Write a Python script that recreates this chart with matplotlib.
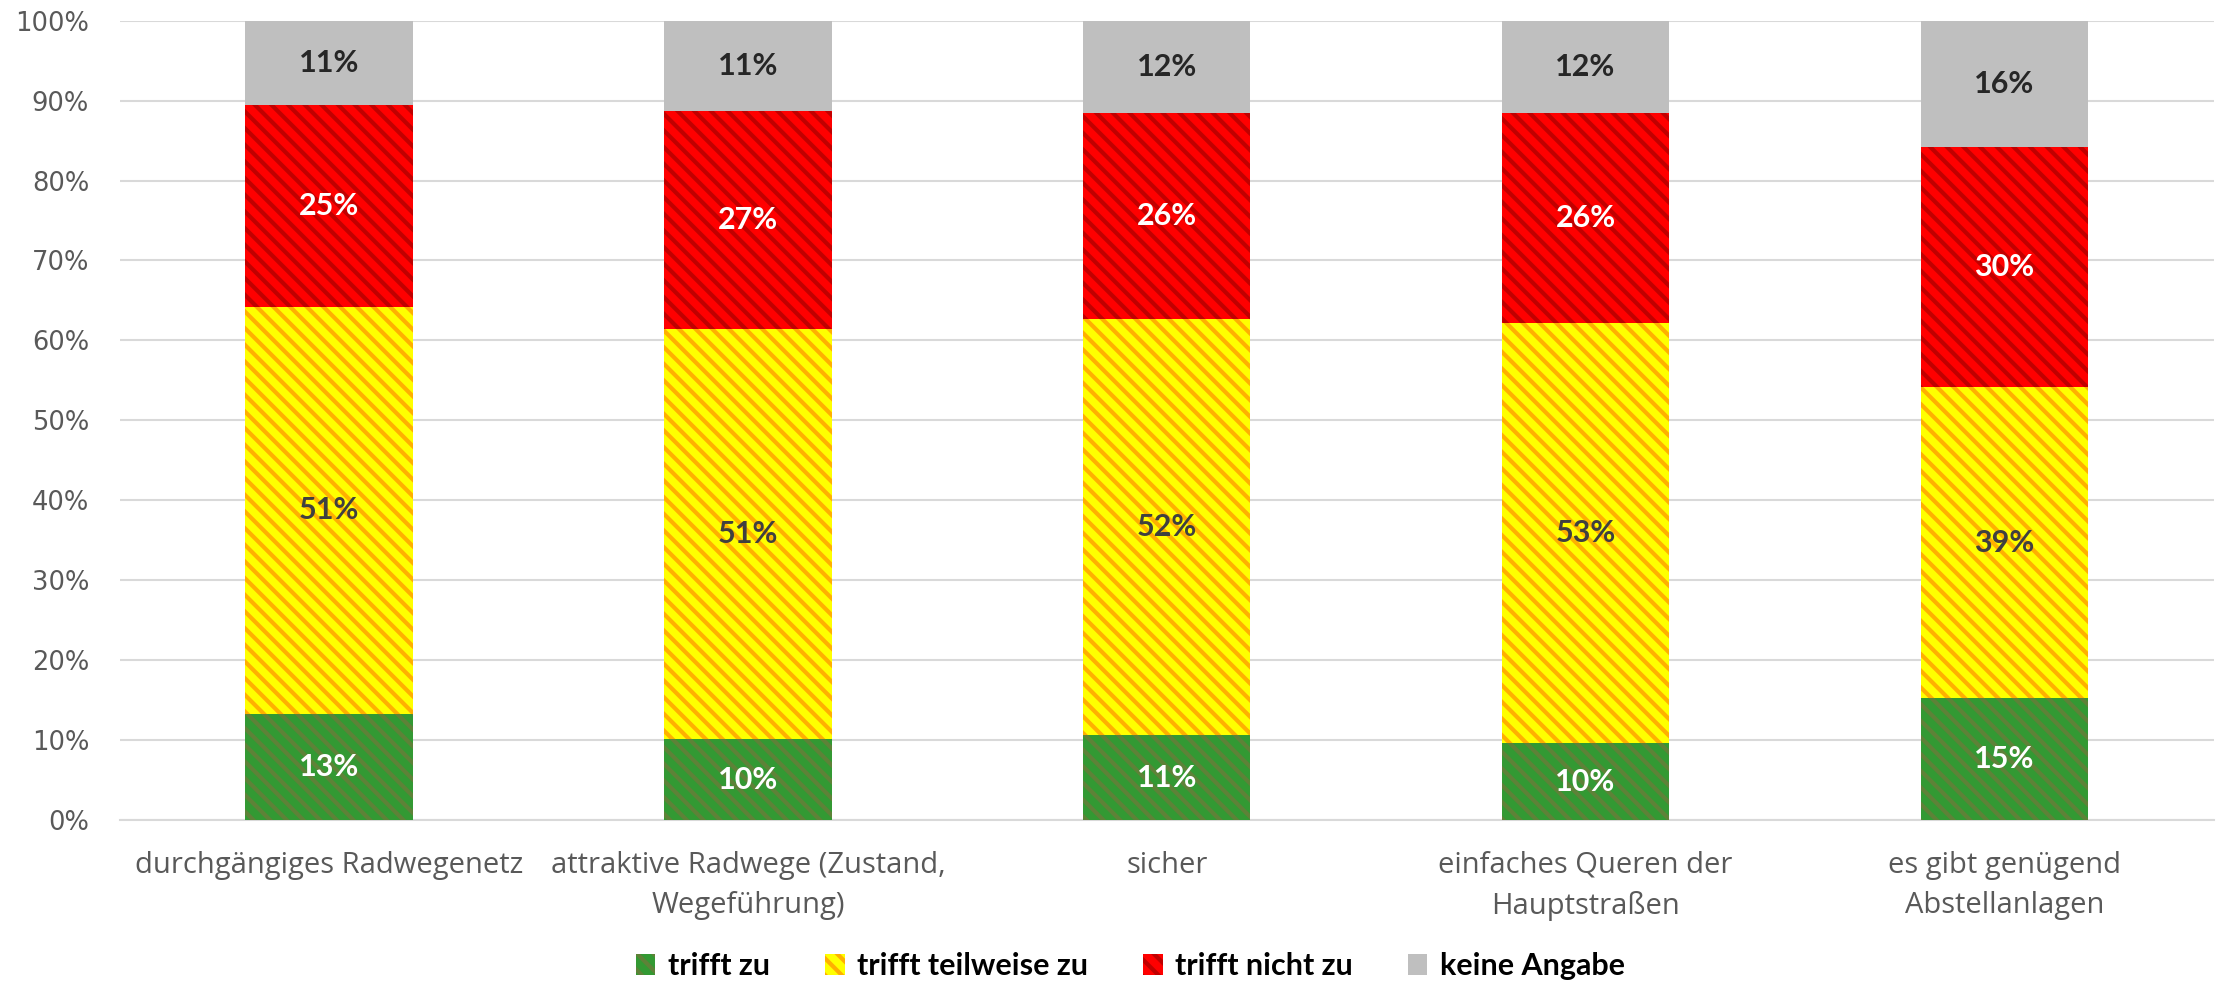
import numpy as np
import matplotlib
matplotlib.use("Agg")
import matplotlib.pyplot as plt
from matplotlib.patches import Patch

plt.rcParams['hatch.linewidth'] = 3.0

categories = ["durchgängiges Radwegenetz", "attraktive Radwege (Zustand,\nWegeführung)",
              "sicher", "einfaches Queren der\nHauptstraßen", "es gibt genügend\nAbstellanlagen"]
trifft_zu = [13.3, 10.1, 10.6, 9.6, 15.2]
teilweise = [50.9, 51.3, 52.1, 52.6, 39.0]
nicht_zu = [25.2, 27.3, 25.8, 26.2, 30.0]
keine_angabe = [10.6, 11.3, 11.5, 11.6, 15.8]

series = [
    ("trifft zu", trifft_zu, "#339933", "#5e8238", "white", "\\\\"),
    ("trifft teilweise zu", teilweise, "#ffff00", "#ffb000", "#404040", "\\\\"),
    ("trifft nicht zu", nicht_zu, "#ff0000", "#c00000", "white", "\\\\"),
    ("keine Angabe", keine_angabe, "#bfbfbf", "#bfbfbf", "#262626", None),
]

fig = plt.figure(figsize=(22.16, 9.84), dpi=100)
ax = fig.add_axes([0.054, 0.1667, 0.945, 0.8123])

x = np.arange(len(categories))
bottom = np.zeros(len(categories))
handles = []
for name, vals, face, hcol, tcol, hatch in series:
    vals = np.array(vals)
    bars = ax.bar(x, vals, 0.4, bottom=bottom, color=face, edgecolor=hcol,
                  linewidth=0, hatch=hatch, zorder=3)
    for xi, b, v in zip(x, bottom, vals):
        ax.text(xi, b + v / 2, f"{v:.0f}%", ha='center', va='center',
                color=tcol, fontsize=22, fontweight='bold', family='Lato', zorder=4)
    bottom += vals
    handles.append(Patch(facecolor=face, edgecolor=hcol, linewidth=0, hatch=hatch, label=name))

ax.set_xlim(-0.5, len(categories) - 0.5)
ax.set_ylim(0, 100)
ax.set_yticks(np.arange(0, 101, 10))
ax.set_yticklabels([f"{t}%" for t in range(0, 101, 10)], family='DejaVu Sans')
ax.yaxis.grid(True, color='#d9d9d9', linewidth=1.5, zorder=0)
ax.set_axisbelow(True)
ax.set_xticks(x)
ax.set_xticklabels(categories, fontsize=21, family='Open Sans', color='#595959', linespacing=1.5)
ax.tick_params(axis='y', length=0, labelsize=18.5, labelcolor='#595959', pad=22)
ax.tick_params(axis='x', length=0, pad=22)
for side in ['top', 'right', 'left']:
    ax.spines[side].set_visible(False)
ax.spines['bottom'].set_color('#d9d9d9')
ax.spines['bottom'].set_linewidth(1.5)

leg = fig.legend(handles=handles, loc='lower center', ncol=4, frameon=False,
                 bbox_to_anchor=(0.51, -0.024), prop={'family': 'Lato', 'weight': 'bold', 'size': 22},
                 handlelength=0.65, handleheight=0.65, handletextpad=0.4, columnspacing=1.8)

fig.savefig("out.png", dpi=100)
